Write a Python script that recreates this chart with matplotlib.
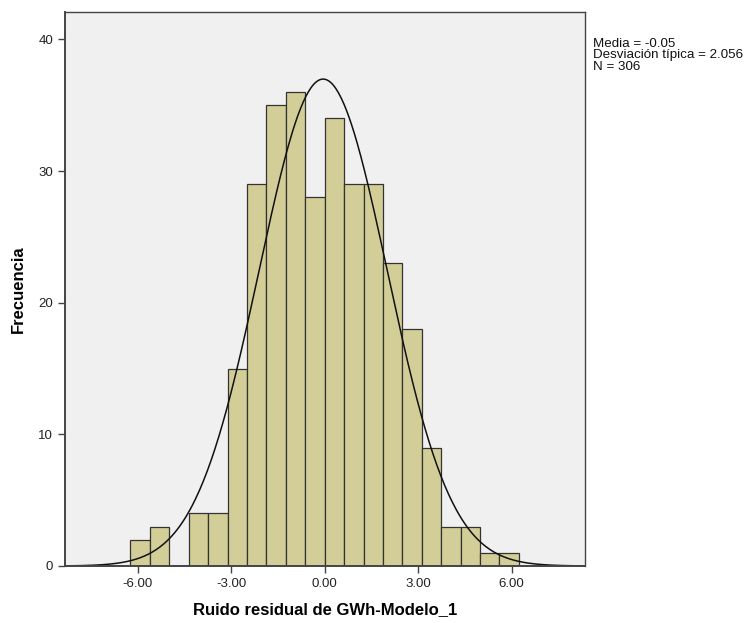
import numpy as np
import matplotlib.pyplot as plt

# histogram data
bin_start = -6.23
bin_width = 0.623
counts = [2, 3, 0, 4, 4, 15, 29, 35, 36, 28, 34, 29, 29, 23, 18, 9, 3, 3, 1, 1]
media = -0.05
desv = 2.056
n_obs = 306
xticks = [-6.0, -3.0, 0.0, 3.0, 6.0]
yticks = [0, 10, 20, 30, 40]

plt.rcParams['font.family'] = ['Liberation Sans', 'DejaVu Sans']

fig = plt.figure(figsize=(7.5, 6.23), dpi=100)
ax = fig.add_axes([0.0867, 0.0915, 0.6933, 0.8895])
ax.set_facecolor('#F0F0F0')

edges = bin_start + bin_width * np.arange(len(counts) + 1)
ax.bar(edges[:-1], counts, width=bin_width, align='edge',
       color='#D3CE97', edgecolor='#333333', linewidth=0.9)

xs = np.linspace(-8.4, 8.4, 400)
ys = n_obs * bin_width / (desv * np.sqrt(2 * np.pi)) * np.exp(-0.5 * ((xs - media) / desv) ** 2)
ax.plot(xs, ys, color='#111111', linewidth=1.1)

ax.set_xlim(-8.33, 8.35)
ax.set_ylim(0, 42.1)
ax.set_xticks(xticks)
ax.set_xticklabels(['%.2f' % t for t in xticks])
ax.set_yticks(yticks)
for s in ax.spines.values():
    s.set_color('#444444')
    s.set_linewidth(1.0)
ax.spines['left'].set_linewidth(1.4)
ax.spines['bottom'].set_linewidth(1.4)
ax.tick_params(axis='both', direction='out', length=5, width=1, color='#444444',
               labelsize=9.5, labelcolor='#222222')

ax.set_xlabel('Ruido residual de GWh-Modelo_1', fontsize=12, fontweight='bold', labelpad=9)
ax.set_ylabel('Frecuencia', fontsize=12, fontweight='bold', labelpad=9)

fig.text(593 / 750, 1 - 38 / 623,
         'Media = %.2f\nDesviación típica = %.3f\nN = %d' % (media, desv, n_obs),
         fontsize=9.6, va='top', ha='left', linespacing=0.92, color='#111111')

fig.savefig('out.png', dpi=100, facecolor='white')
